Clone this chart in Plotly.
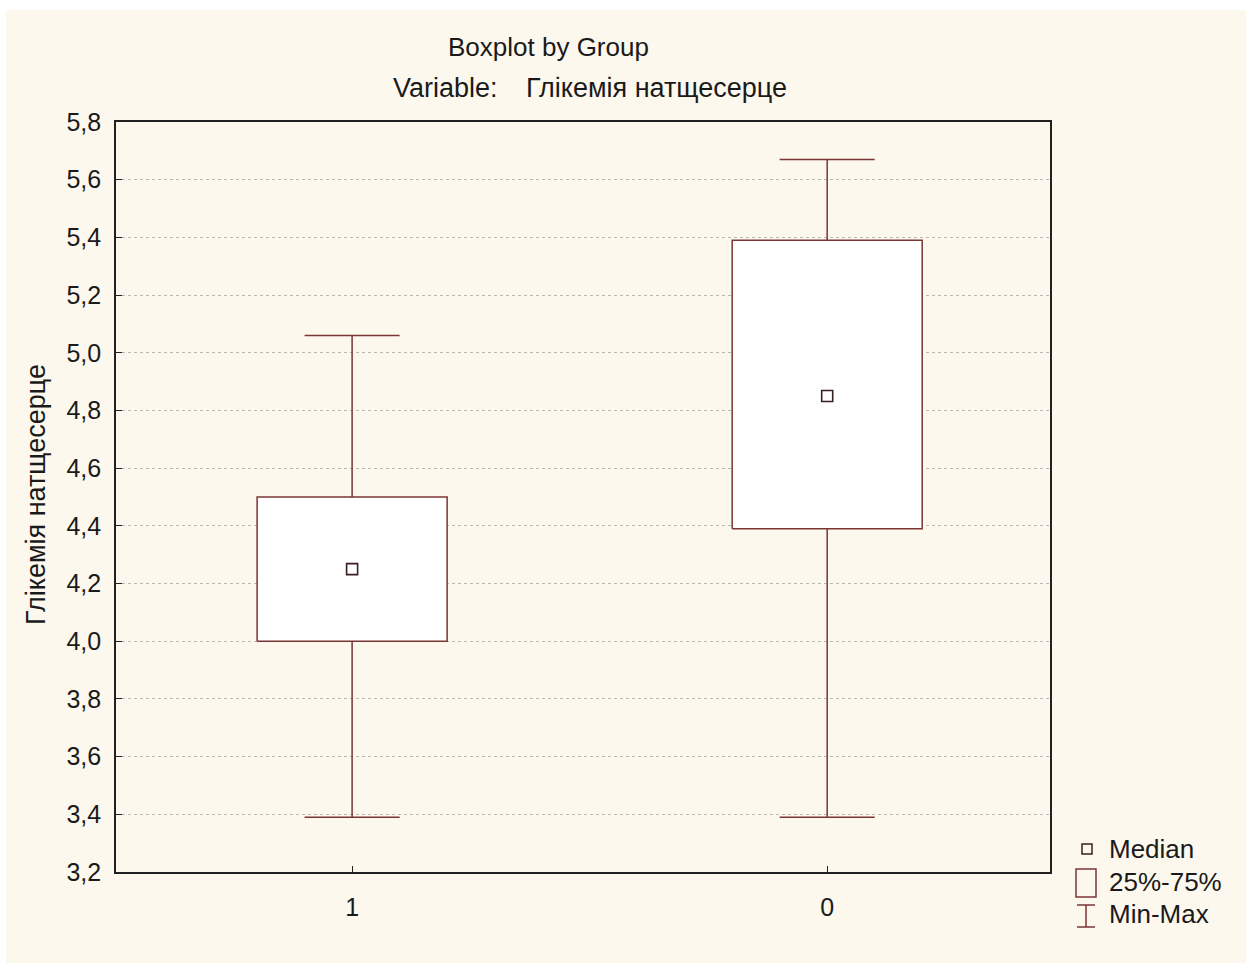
import plotly.graph_objects as go

# Summary statistics per group
groups = ["1", "0"]
minimum = [3.39, 3.39]
q1 = [4.00, 4.39]
median = [4.25, 4.85]
q3 = [4.50, 5.39]
maximum = [5.06, 5.67]

y_ticks = [3.2, 3.4, 3.6, 3.8, 4.0, 4.2, 4.4, 4.6, 4.8, 5.0, 5.2, 5.4, 5.6, 5.8]
y_tick_text = [f"{v:.1f}".replace(".", ",") for v in y_ticks]

BOX_HALF = 0.2
CAP_HALF = 0.1
LINE_COLOR = "#7a3535"
MED_COLOR = "#3a1f1f"
FONT = "Liberation Sans, Arial, sans-serif"
INK = "#1a1a1a"

fig = go.Figure()

# Boxes (25%-75%) and whiskers (min-max) built as line paths
bx, by, wx, wy = [], [], [], []
for i in range(len(groups)):
    bx += [i - BOX_HALF, i + BOX_HALF, i + BOX_HALF, i - BOX_HALF, i - BOX_HALF, None]
    by += [q1[i], q1[i], q3[i], q3[i], q1[i], None]
    wx += [i, i, None, i, i, None,
           i - CAP_HALF, i + CAP_HALF, None, i - CAP_HALF, i + CAP_HALF, None]
    wy += [q3[i], maximum[i], None, q1[i], minimum[i], None,
           maximum[i], maximum[i], None, minimum[i], minimum[i], None]

fig.add_trace(go.Scatter(x=wx, y=wy, mode="lines",
                         line=dict(color=LINE_COLOR, width=1.5),
                         hoverinfo="skip", showlegend=False))
fig.add_trace(go.Scatter(x=bx, y=by, mode="lines", fill="toself", fillcolor="white",
                         line=dict(color=LINE_COLOR, width=1.5),
                         hoverinfo="skip", showlegend=False))
fig.add_trace(go.Scatter(x=list(range(len(groups))), y=median, mode="markers",
                         marker=dict(symbol="square-open", size=11,
                                     color=MED_COLOR, line=dict(width=1.6)),
                         showlegend=False))

W, H = 1252, 968
L, R, T, B = 116, 202, 122, 96
pw, ph = W - L - R, H - T - B


def px(xp):
    return (xp - L) / pw


def py(yp):
    return (H - B - yp) / ph


shapes = [
    # cream page background with thin white border
    dict(type="rect", xref="paper", yref="paper", layer="below",
         x0=px(6), x1=px(1246), y0=py(963), y1=py(10),
         fillcolor="#fcf8ee", line=dict(width=0)),
    # legend glyphs
    dict(type="rect", xref="paper", yref="paper",
         x0=px(1082), x1=px(1092), y0=py(854), y1=py(844),
         line=dict(color=MED_COLOR, width=1.5)),
    dict(type="rect", xref="paper", yref="paper",
         x0=px(1076), x1=px(1096), y0=py(897), y1=py(869),
         line=dict(color=LINE_COLOR, width=1.5)),
    dict(type="line", xref="paper", yref="paper",
         x0=px(1086), x1=px(1086), y0=py(927), y1=py(905),
         line=dict(color=LINE_COLOR, width=1.5)),
    dict(type="line", xref="paper", yref="paper",
         x0=px(1077), x1=px(1095), y0=py(905), y1=py(905),
         line=dict(color=LINE_COLOR, width=1.5)),
    dict(type="line", xref="paper", yref="paper",
         x0=px(1077), x1=px(1095), y0=py(927), y1=py(927),
         line=dict(color=LINE_COLOR, width=1.5)),
]

title_font = dict(family=FONT, size=26, color=INK)
sub_font = dict(family=FONT, size=27, color=INK)
ytitle_font = dict(family=FONT, size=27, color=INK)
legend_font = dict(family=FONT, size=26, color=INK)
tick_font = dict(family=FONT, size=25, color=INK)

annotations = [
    dict(text="Boxplot by Group", x=px(548), y=py(47), xref="paper", yref="paper",
         showarrow=False, font=title_font, xanchor="center", yanchor="middle"),
    dict(text="Variable:", x=px(500), y=py(88), xref="paper", yref="paper",
         showarrow=False, font=sub_font, xanchor="right", yanchor="middle"),
    dict(text="Глікемія натщесерце", x=px(524), y=py(88), xref="paper", yref="paper",
         showarrow=False, font=sub_font, xanchor="left", yanchor="middle"),
    dict(text="Глікемія натщесерце", x=px(36), y=py(495), xref="paper", yref="paper",
         showarrow=False, font=ytitle_font, textangle=-90,
         xanchor="center", yanchor="middle"),
    dict(text="Median", x=px(1107), y=py(849), xref="paper", yref="paper",
         showarrow=False, font=legend_font, xanchor="left", yanchor="middle"),
    dict(text="25%-75%", x=px(1107), y=py(882), xref="paper", yref="paper",
         showarrow=False, font=legend_font, xanchor="left", yanchor="middle"),
    dict(text="Min-Max", x=px(1107), y=py(914), xref="paper", yref="paper",
         showarrow=False, font=legend_font, xanchor="left", yanchor="middle"),
]

fig.update_layout(
    width=W, height=H,
    margin=dict(l=L, r=R, t=T, b=B, pad=0),
    paper_bgcolor="white",
    plot_bgcolor="white",
    font=dict(family=FONT, size=25, color=INK),
    shapes=shapes,
    annotations=annotations,
    xaxis=dict(range=[-0.497, 1.469], tickmode="array",
               tickvals=list(range(len(groups))), ticktext=groups,
               ticks="inside", ticklen=6, tickcolor="#222",
               ticklabelstandoff=12,
               showline=True, linecolor="#222", linewidth=1.6, mirror=True,
               showgrid=False, zeroline=False, fixedrange=True,
               tickfont=tick_font),
    yaxis=dict(range=[3.2, 5.8], tickmode="array",
               tickvals=y_ticks, ticktext=y_tick_text,
               ticks="inside", ticklen=6, tickcolor="#222",
               ticklabelstandoff=8,
               showline=True, linecolor="#222", linewidth=1.6, mirror=True,
               showgrid=True, gridcolor="#b8b8b8", griddash="dot", gridwidth=1,
               zeroline=False, fixedrange=True, tickfont=tick_font),
)

fig.write_html("out.html")
